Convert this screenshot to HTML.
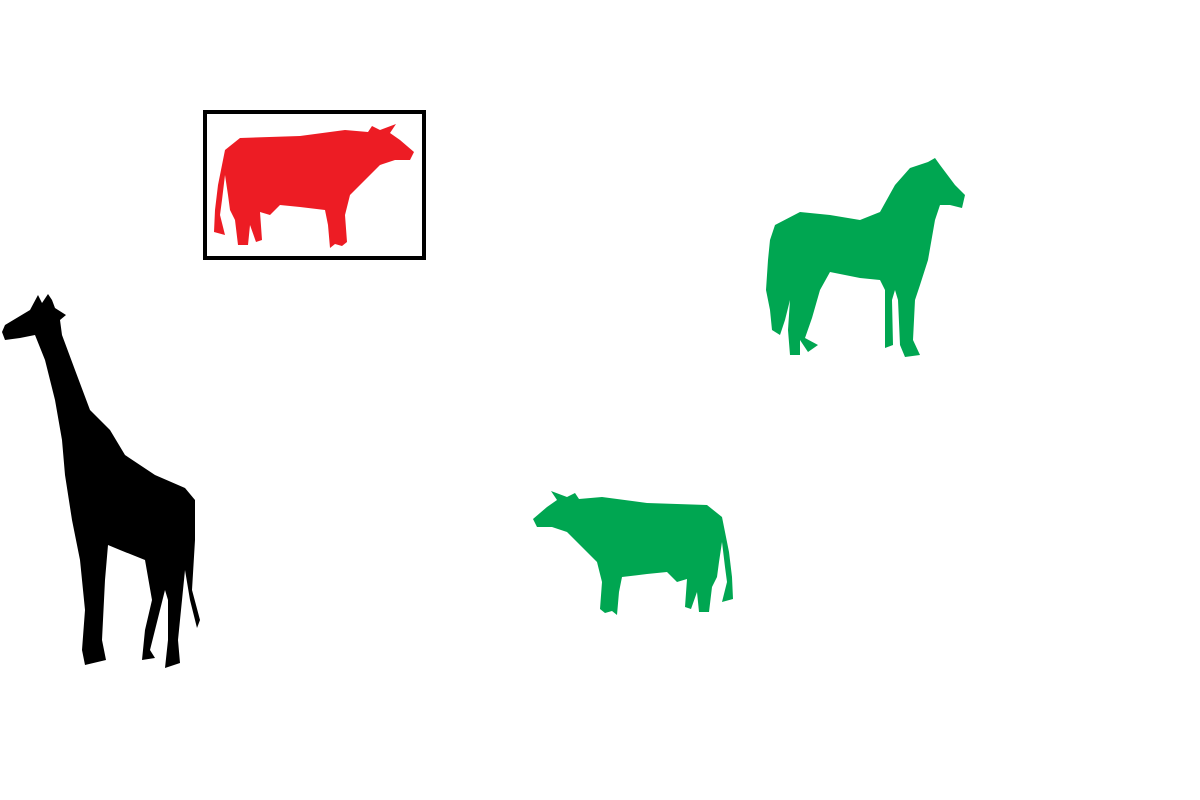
<!DOCTYPE html>
<html>
<head>
<meta charset="utf-8">
<style>
html,body{margin:0;padding:0;background:#fff;}
svg{display:block;}
</style>
</head>
<body>
<svg width="1200" height="800" viewBox="0 0 1200 800" xmlns="http://www.w3.org/2000/svg">
  <rect x="0" y="0" width="1200" height="800" fill="#ffffff"/>
  <defs>
    <path id="cowShape" d="M225,150 L240,138 L300,136 L345,130 L368,132 L372,126 L380,130 L396,124 L390,133 L400,140 L414,152 L410,160 L395,160 L380,165 L365,180 L350,195 L345,215 L347,242 L342,246 L335,244 L330,248 L328,225 L325,210 L300,207 L280,205 L270,215 L260,212 L262,240 L256,242 L250,225 L248,245 L238,245 L235,220 L230,210 L228,195 L225,175 L222,200 L220,215 L225,235 L214,232 L215,210 L218,185 Z"/>
  </defs>
  <rect x="205" y="112" width="219" height="146" fill="none" stroke="#000" stroke-width="4"/>
  <use href="#cowShape" fill="#ed1c24"/>
  <use href="#cowShape" fill="#00a651" transform="translate(947,367) scale(-1,1)"/>
  <path fill="#00a651" d="M775,225 L800,212 L830,215 L860,220 L880,212 L895,185 L910,168 L928,162 L935,158 L940,165 L955,185 L965,195 L962,208 L950,205 L940,205 L935,220 L928,260 L920,285 L915,300 L913,340 L920,355 L905,357 L900,345 L898,300 L895,290 L892,300 L893,345 L885,348 L885,290 L880,280 L860,278 L830,272 L820,290 L812,318 L805,338 L818,345 L808,352 L800,340 L800,355 L790,355 L788,330 L790,300 L785,320 L780,335 L772,330 L770,310 L766,290 L768,260 L770,240 Z"/>
  <path fill="#000" d="M5,325 L30,310 L38,295 L42,303 L48,294 L52,300 L55,308 L66,315 L60,320 L62,335 L75,370 L90,410 L110,430 L125,455 L155,475 L185,488 L195,500 L195,540 L192,590 L200,620 L197,628 L190,600 L185,570 L182,600 L178,640 L180,663 L165,668 L168,640 L168,600 L165,590 L160,610 L150,650 L155,658 L142,660 L145,630 L152,600 L145,560 L120,550 L108,545 L105,580 L102,640 L106,660 L85,665 L82,650 L85,610 L80,560 L72,520 L65,475 L62,440 L55,400 L45,360 L35,335 L20,338 L5,340 L2,332 Z"/>
</svg>
</body>
</html>
